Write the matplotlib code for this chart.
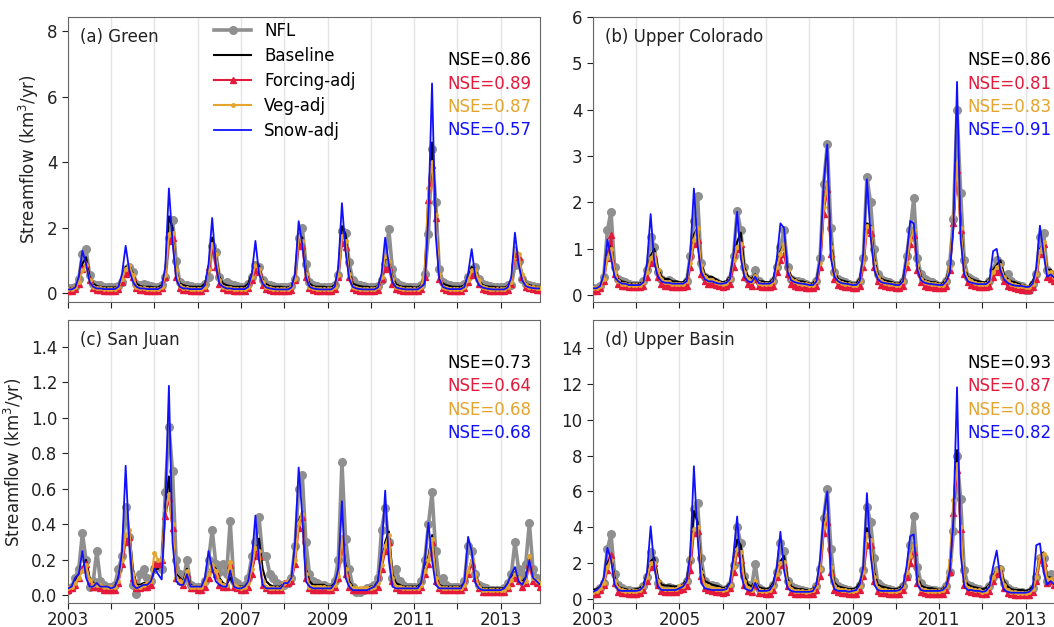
import numpy as np
import matplotlib
matplotlib.use("Agg")
import matplotlib.pyplot as plt
from matplotlib.ticker import FixedLocator, FormatStrFormatter

# monthly time axis, Jan 2003 - Dec 2013
months = 2003 + np.arange(132) / 12.0
year_ticks = list(range(2003, 2014))
year_labels = [str(y) if y % 2 == 1 else "" for y in year_ticks]

series_names = ["NFL", "Baseline", "Forcing-adj", "Veg-adj", "Snow-adj"]
panel_titles = ["(a) Green", "(b) Upper Colorado", "(c) San Juan", "(d) Upper Basin"]

# Nash-Sutcliffe efficiency per panel: Baseline, Forcing-adj, Veg-adj, Snow-adj
nse_green = [0.86, 0.89, 0.87, 0.57]
nse_colorado = [0.86, 0.81, 0.83, 0.91]
nse_sanjuan = [0.73, 0.64, 0.68, 0.68]
nse_basin = [0.93, 0.87, 0.88, 0.82]

# ---- Green (km3/yr), one row per year ----
green_nfl = [
    0.15, 0.15, 0.20, 0.45, 1.20, 1.35, 0.55, 0.30, 0.25, 0.25, 0.20, 0.18,
    0.18, 0.18, 0.22, 0.35, 0.75, 0.80, 0.65, 0.30, 0.25, 0.28, 0.25, 0.22,
    0.20, 0.20, 0.25, 0.50, 1.70, 2.25, 1.00, 0.35, 0.25, 0.25, 0.22, 0.20,
    0.20, 0.20, 0.30, 0.50, 1.45, 1.25, 0.50, 0.30, 0.35, 0.30, 0.25, 0.22,
    0.20, 0.20, 0.30, 0.50, 0.85, 0.80, 0.40, 0.30, 0.25, 0.22, 0.20, 0.20,
    0.18, 0.18, 0.22, 0.45, 1.70, 2.00, 0.90, 0.35, 0.25, 0.22, 0.20, 0.20,
    0.18, 0.18, 0.25, 0.55, 1.90, 1.85, 0.95, 0.40, 0.30, 0.25, 0.22, 0.20,
    0.20, 0.18, 0.22, 0.40, 0.90, 1.95, 0.75, 0.35, 0.25, 0.22, 0.20, 0.20,
    0.20, 0.20, 0.25, 0.60, 1.80, 4.40, 2.80, 0.75, 0.35, 0.30, 0.25, 0.22,
    0.22, 0.22, 0.30, 0.50, 0.75, 0.80, 0.45, 0.30, 0.25, 0.22, 0.20, 0.20,
    0.18, 0.18, 0.25, 0.25, 0.85, 1.00, 0.45, 0.30, 0.25, 0.22, 0.20, 0.18,
]
green_baseline = [
    0.15, 0.15, 0.20, 0.35, 0.90, 1.10, 0.50, 0.30, 0.22, 0.20, 0.18, 0.18,
    0.18, 0.18, 0.20, 0.45, 0.80, 0.85, 0.60, 0.30, 0.22, 0.20, 0.20, 0.20,
    0.18, 0.18, 0.25, 0.60, 2.35, 2.00, 0.70, 0.30, 0.25, 0.22, 0.20, 0.20,
    0.20, 0.20, 0.30, 0.70, 1.70, 1.20, 0.50, 0.30, 0.25, 0.22, 0.20, 0.20,
    0.20, 0.20, 0.30, 0.60, 0.90, 0.85, 0.40, 0.28, 0.22, 0.20, 0.20, 0.20,
    0.18, 0.18, 0.22, 0.50, 1.80, 1.70, 0.70, 0.30, 0.22, 0.20, 0.20, 0.20,
    0.18, 0.18, 0.25, 0.60, 2.05, 1.80, 0.75, 0.30, 0.25, 0.22, 0.20, 0.20,
    0.18, 0.18, 0.22, 0.50, 1.10, 1.00, 0.50, 0.28, 0.22, 0.20, 0.20, 0.20,
    0.18, 0.18, 0.25, 0.60, 3.00, 4.60, 2.50, 0.50, 0.30, 0.25, 0.22, 0.20,
    0.20, 0.20, 0.25, 0.45, 0.80, 0.75, 0.40, 0.25, 0.22, 0.20, 0.20, 0.18,
    0.18, 0.18, 0.22, 0.40, 1.40, 1.20, 0.55, 0.30, 0.25, 0.22, 0.20, 0.20,
]
green_forcing = [
    0.08, 0.08, 0.12, 0.30, 0.75, 0.90, 0.40, 0.15, 0.10, 0.10, 0.08, 0.08,
    0.08, 0.08, 0.12, 0.35, 0.60, 0.65, 0.50, 0.15, 0.10, 0.10, 0.08, 0.08,
    0.08, 0.08, 0.15, 0.50, 1.60, 1.70, 0.50, 0.15, 0.10, 0.10, 0.08, 0.08,
    0.08, 0.08, 0.15, 0.80, 1.40, 0.80, 0.30, 0.15, 0.10, 0.10, 0.08, 0.08,
    0.08, 0.08, 0.15, 0.40, 0.70, 0.65, 0.25, 0.12, 0.10, 0.08, 0.08, 0.08,
    0.07, 0.07, 0.10, 0.40, 1.50, 1.45, 0.50, 0.15, 0.10, 0.08, 0.08, 0.08,
    0.07, 0.07, 0.12, 0.50, 1.55, 1.40, 0.50, 0.15, 0.10, 0.08, 0.08, 0.08,
    0.07, 0.07, 0.10, 0.45, 0.75, 0.80, 0.30, 0.12, 0.10, 0.08, 0.08, 0.08,
    0.07, 0.07, 0.12, 0.50, 2.85, 3.90, 2.30, 0.45, 0.15, 0.10, 0.08, 0.08,
    0.08, 0.08, 0.15, 0.35, 0.55, 0.60, 0.30, 0.12, 0.10, 0.08, 0.08, 0.08,
    0.07, 0.07, 0.10, 0.30, 1.20, 1.10, 0.50, 0.20, 0.15, 0.12, 0.10, 0.10,
]
green_veg = [
    0.12, 0.12, 0.18, 0.35, 0.70, 0.85, 0.40, 0.20, 0.15, 0.15, 0.13, 0.13,
    0.13, 0.13, 0.18, 0.45, 0.75, 0.85, 0.55, 0.20, 0.15, 0.15, 0.13, 0.13,
    0.13, 0.13, 0.20, 0.55, 1.80, 1.85, 0.70, 0.22, 0.15, 0.15, 0.13, 0.13,
    0.13, 0.13, 0.20, 0.75, 1.50, 1.20, 0.40, 0.20, 0.15, 0.15, 0.13, 0.13,
    0.13, 0.13, 0.20, 0.50, 0.85, 0.75, 0.35, 0.18, 0.15, 0.13, 0.12, 0.12,
    0.12, 0.12, 0.18, 0.45, 1.75, 1.60, 0.60, 0.20, 0.15, 0.13, 0.12, 0.12,
    0.12, 0.12, 0.20, 0.55, 1.75, 1.60, 0.60, 0.20, 0.15, 0.13, 0.12, 0.12,
    0.12, 0.12, 0.18, 0.50, 1.15, 1.00, 0.45, 0.18, 0.15, 0.13, 0.12, 0.12,
    0.12, 0.12, 0.20, 0.70, 3.20, 4.00, 2.40, 0.60, 0.20, 0.15, 0.13, 0.13,
    0.13, 0.13, 0.20, 0.40, 0.70, 0.70, 0.40, 0.18, 0.15, 0.13, 0.12, 0.12,
    0.12, 0.12, 0.18, 0.35, 1.35, 1.20, 0.60, 0.25, 0.20, 0.18, 0.15, 0.15,
]
green_snow = [
    0.12, 0.12, 0.18, 0.50, 1.30, 0.90, 0.35, 0.20, 0.15, 0.15, 0.13, 0.13,
    0.13, 0.13, 0.20, 0.60, 1.45, 0.70, 0.35, 0.20, 0.15, 0.15, 0.13, 0.13,
    0.13, 0.13, 0.20, 0.80, 3.20, 1.60, 0.45, 0.20, 0.15, 0.15, 0.13, 0.13,
    0.13, 0.13, 0.25, 0.90, 2.30, 0.90, 0.30, 0.20, 0.15, 0.15, 0.13, 0.13,
    0.13, 0.13, 0.20, 0.60, 1.60, 0.60, 0.30, 0.18, 0.15, 0.13, 0.12, 0.12,
    0.12, 0.12, 0.18, 0.60, 2.20, 1.50, 0.50, 0.20, 0.15, 0.13, 0.12, 0.12,
    0.12, 0.12, 0.20, 0.80, 2.75, 1.30, 0.45, 0.20, 0.15, 0.13, 0.12, 0.12,
    0.12, 0.12, 0.18, 0.60, 1.70, 0.90, 0.35, 0.18, 0.15, 0.13, 0.12, 0.12,
    0.12, 0.12, 0.20, 0.30, 2.50, 6.40, 1.80, 0.45, 0.20, 0.15, 0.13, 0.13,
    0.13, 0.13, 0.20, 0.60, 1.35, 0.50, 0.25, 0.18, 0.15, 0.13, 0.12, 0.12,
    0.12, 0.12, 0.18, 0.50, 1.85, 0.90, 0.40, 0.22, 0.18, 0.16, 0.15, 0.15,
]

# ---- Upper Colorado ----
colorado_nfl = [
    0.15, 0.15, 0.20, 0.40, 1.40, 1.80, 0.60, 0.35, 0.30, 0.28, 0.25, 0.22,
    0.22, 0.22, 0.30, 0.55, 1.25, 1.05, 0.50, 0.35, 0.30, 0.32, 0.28, 0.25,
    0.22, 0.22, 0.30, 0.85, 1.60, 2.15, 0.70, 0.40, 0.35, 0.30, 0.28, 0.25,
    0.22, 0.25, 0.35, 0.85, 1.82, 1.40, 0.60, 0.35, 0.35, 0.55, 0.30, 0.25,
    0.22, 0.22, 0.30, 0.60, 1.05, 1.40, 0.60, 0.35, 0.30, 0.30, 0.28, 0.25,
    0.20, 0.22, 0.30, 0.80, 2.40, 3.25, 1.45, 0.50, 0.35, 0.30, 0.28, 0.25,
    0.22, 0.22, 0.30, 0.80, 2.55, 2.00, 1.00, 0.45, 0.35, 0.30, 0.28, 0.25,
    0.22, 0.22, 0.30, 0.85, 1.40, 2.10, 0.80, 0.45, 0.35, 0.30, 0.28, 0.25,
    0.20, 0.22, 0.30, 0.70, 1.65, 4.00, 2.20, 0.75, 0.40, 0.35, 0.30, 0.25,
    0.22, 0.22, 0.30, 0.55, 0.75, 0.70, 0.40, 0.45, 0.30, 0.25, 0.22, 0.20,
    0.12, 0.12, 0.25, 0.45, 1.25, 1.35, 0.55, 0.45, 0.40, 0.30, 0.25, 0.22,
]
colorado_baseline = [
    0.15, 0.15, 0.20, 0.35, 0.90, 1.10, 0.50, 0.35, 0.30, 0.28, 0.25, 0.25,
    0.25, 0.25, 0.30, 0.50, 0.85, 1.00, 0.60, 0.40, 0.35, 0.35, 0.30, 0.30,
    0.28, 0.28, 0.35, 0.70, 1.30, 1.45, 0.70, 0.45, 0.40, 0.40, 0.35, 0.30,
    0.28, 0.30, 0.40, 0.80, 1.15, 1.35, 0.60, 0.40, 0.35, 0.45, 0.30, 0.30,
    0.28, 0.28, 0.35, 0.65, 0.95, 1.10, 0.60, 0.40, 0.35, 0.30, 0.30, 0.28,
    0.25, 0.25, 0.35, 0.70, 1.90, 2.40, 1.20, 0.50, 0.35, 0.32, 0.30, 0.28,
    0.25, 0.25, 0.35, 0.75, 1.55, 1.50, 0.80, 0.45, 0.35, 0.32, 0.30, 0.28,
    0.25, 0.25, 0.35, 0.75, 1.20, 1.40, 0.70, 0.40, 0.32, 0.30, 0.28, 0.28,
    0.25, 0.25, 0.35, 0.60, 1.60, 2.85, 1.60, 0.60, 0.40, 0.35, 0.32, 0.30,
    0.28, 0.28, 0.35, 0.55, 0.65, 0.75, 0.45, 0.35, 0.30, 0.28, 0.25, 0.22,
    0.20, 0.20, 0.30, 0.50, 1.00, 1.10, 0.55, 0.55, 0.45, 0.35, 0.30, 0.28,
]
colorado_forcing = [
    0.10, 0.10, 0.15, 0.30, 0.80, 1.30, 0.45, 0.25, 0.20, 0.20, 0.18, 0.18,
    0.17, 0.17, 0.20, 0.40, 0.70, 0.85, 0.40, 0.25, 0.20, 0.20, 0.18, 0.18,
    0.17, 0.17, 0.20, 0.60, 1.10, 1.20, 0.45, 0.30, 0.25, 0.25, 0.22, 0.20,
    0.18, 0.20, 0.25, 0.60, 1.00, 1.10, 0.40, 0.25, 0.20, 0.35, 0.20, 0.18,
    0.17, 0.17, 0.20, 0.50, 0.75, 0.90, 0.45, 0.25, 0.20, 0.18, 0.17, 0.16,
    0.15, 0.15, 0.20, 0.60, 1.75, 2.30, 0.90, 0.35, 0.22, 0.20, 0.18, 0.17,
    0.15, 0.15, 0.20, 0.60, 1.40, 1.35, 0.60, 0.30, 0.22, 0.20, 0.18, 0.17,
    0.15, 0.15, 0.20, 0.60, 1.10, 1.30, 0.55, 0.28, 0.20, 0.18, 0.17, 0.16,
    0.15, 0.15, 0.20, 0.55, 1.55, 2.70, 1.40, 0.45, 0.28, 0.22, 0.20, 0.18,
    0.17, 0.17, 0.20, 0.40, 0.50, 0.55, 0.30, 0.20, 0.17, 0.15, 0.13, 0.12,
    0.12, 0.12, 0.18, 0.35, 0.90, 1.10, 0.40, 0.35, 0.30, 0.22, 0.18, 0.16,
]
colorado_veg = [
    0.15, 0.15, 0.20, 0.35, 0.80, 1.00, 0.50, 0.30, 0.25, 0.25, 0.22, 0.22,
    0.22, 0.22, 0.28, 0.50, 0.80, 0.90, 0.55, 0.35, 0.28, 0.28, 0.25, 0.25,
    0.25, 0.25, 0.30, 0.70, 1.20, 1.45, 0.65, 0.40, 0.32, 0.32, 0.28, 0.27,
    0.25, 0.27, 0.35, 0.75, 1.05, 1.10, 0.50, 0.35, 0.30, 0.42, 0.27, 0.25,
    0.25, 0.25, 0.30, 0.60, 0.90, 1.10, 0.55, 0.35, 0.30, 0.27, 0.25, 0.25,
    0.22, 0.22, 0.30, 0.70, 1.90, 2.40, 1.05, 0.45, 0.30, 0.27, 0.25, 0.24,
    0.22, 0.22, 0.30, 0.70, 1.50, 1.45, 0.70, 0.40, 0.30, 0.27, 0.25, 0.24,
    0.22, 0.22, 0.30, 0.70, 1.20, 1.40, 0.65, 0.35, 0.28, 0.26, 0.25, 0.24,
    0.22, 0.22, 0.30, 0.60, 1.70, 2.85, 1.45, 0.55, 0.35, 0.30, 0.27, 0.25,
    0.25, 0.25, 0.30, 0.50, 0.60, 0.65, 0.40, 0.30, 0.25, 0.22, 0.20, 0.20,
    0.18, 0.18, 0.25, 0.45, 0.95, 1.15, 0.50, 0.50, 0.40, 0.30, 0.25, 0.24,
]
colorado_snow = [
    0.15, 0.15, 0.20, 0.45, 1.20, 0.80, 0.40, 0.30, 0.25, 0.25, 0.22, 0.22,
    0.22, 0.22, 0.28, 0.70, 1.75, 0.70, 0.40, 0.30, 0.27, 0.27, 0.25, 0.25,
    0.25, 0.25, 0.30, 0.90, 2.30, 1.10, 0.50, 0.35, 0.30, 0.30, 0.27, 0.25,
    0.25, 0.27, 0.35, 0.90, 1.80, 0.80, 0.40, 0.30, 0.28, 0.40, 0.26, 0.25,
    0.25, 0.25, 0.30, 0.80, 1.55, 1.45, 0.50, 0.32, 0.28, 0.26, 0.25, 0.24,
    0.22, 0.22, 0.30, 0.80, 2.40, 3.25, 0.80, 0.40, 0.30, 0.26, 0.25, 0.24,
    0.22, 0.22, 0.30, 0.90, 2.50, 1.30, 0.55, 0.35, 0.28, 0.26, 0.25, 0.24,
    0.22, 0.22, 0.30, 0.85, 1.60, 1.55, 0.55, 0.32, 0.27, 0.25, 0.24, 0.23,
    0.22, 0.22, 0.30, 0.50, 1.50, 4.60, 1.20, 0.45, 0.30, 0.27, 0.25, 0.24,
    0.24, 0.24, 0.30, 0.95, 1.00, 0.55, 0.35, 0.27, 0.23, 0.21, 0.20, 0.20,
    0.18, 0.18, 0.25, 0.60, 1.50, 0.90, 0.40, 0.45, 0.38, 0.28, 0.24, 0.22,
]

# ---- San Juan ----
sanjuan_nfl = [
    0.03, 0.05, 0.10, 0.15, 0.35, 0.20, 0.05, 0.08, 0.25, 0.08, 0.06, 0.05,
    0.05, 0.06, 0.15, 0.22, 0.50, 0.33, 0.06, 0.01, 0.12, 0.15, 0.10, 0.08,
    0.15, 0.18, 0.15, 0.58, 0.95, 0.70, 0.20, 0.12, 0.08, 0.20, 0.06, 0.05,
    0.05, 0.05, 0.08, 0.20, 0.37, 0.18, 0.13, 0.18, 0.12, 0.42, 0.08, 0.07,
    0.05, 0.06, 0.10, 0.22, 0.30, 0.44, 0.22, 0.22, 0.12, 0.10, 0.07, 0.06,
    0.06, 0.07, 0.10, 0.28, 0.60, 0.68, 0.30, 0.12, 0.08, 0.07, 0.06, 0.06,
    0.05, 0.05, 0.08, 0.20, 0.75, 0.32, 0.15, 0.05, 0.02, 0.02, 0.03, 0.04,
    0.05, 0.06, 0.10, 0.37, 0.49, 0.30, 0.10, 0.15, 0.08, 0.06, 0.05, 0.05,
    0.05, 0.05, 0.08, 0.20, 0.40, 0.58, 0.25, 0.08, 0.10, 0.06, 0.05, 0.05,
    0.05, 0.05, 0.08, 0.28, 0.25, 0.12, 0.06, 0.05, 0.04, 0.03, 0.03, 0.03,
    0.03, 0.04, 0.07, 0.12, 0.30, 0.15, 0.12, 0.18, 0.41, 0.15, 0.10, 0.08,
]
sanjuan_baseline = [
    0.04, 0.05, 0.08, 0.12, 0.15, 0.20, 0.10, 0.07, 0.06, 0.06, 0.05, 0.05,
    0.05, 0.05, 0.10, 0.20, 0.33, 0.36, 0.15, 0.06, 0.06, 0.07, 0.07, 0.08,
    0.15, 0.15, 0.20, 0.50, 0.67, 0.37, 0.12, 0.10, 0.08, 0.15, 0.06, 0.05,
    0.05, 0.05, 0.07, 0.12, 0.17, 0.15, 0.10, 0.07, 0.06, 0.10, 0.06, 0.05,
    0.05, 0.05, 0.07, 0.15, 0.22, 0.32, 0.15, 0.08, 0.06, 0.05, 0.05, 0.05,
    0.07, 0.07, 0.10, 0.20, 0.42, 0.47, 0.15, 0.08, 0.06, 0.06, 0.06, 0.06,
    0.05, 0.05, 0.07, 0.12, 0.33, 0.18, 0.08, 0.05, 0.04, 0.04, 0.04, 0.04,
    0.05, 0.05, 0.08, 0.20, 0.30, 0.36, 0.12, 0.07, 0.06, 0.05, 0.05, 0.05,
    0.05, 0.05, 0.07, 0.15, 0.22, 0.34, 0.12, 0.06, 0.05, 0.05, 0.05, 0.05,
    0.05, 0.05, 0.07, 0.13, 0.20, 0.12, 0.06, 0.04, 0.04, 0.04, 0.04, 0.04,
    0.04, 0.04, 0.06, 0.10, 0.13, 0.10, 0.08, 0.10, 0.22, 0.10, 0.08, 0.07,
]
sanjuan_forcing = [
    0.03, 0.04, 0.06, 0.10, 0.15, 0.18, 0.08, 0.05, 0.05, 0.04, 0.03, 0.03,
    0.03, 0.03, 0.07, 0.18, 0.30, 0.33, 0.10, 0.04, 0.04, 0.05, 0.05, 0.06,
    0.18, 0.18, 0.20, 0.45, 0.55, 0.38, 0.10, 0.08, 0.06, 0.12, 0.04, 0.04,
    0.03, 0.03, 0.05, 0.10, 0.15, 0.12, 0.06, 0.05, 0.05, 0.17, 0.05, 0.04,
    0.03, 0.03, 0.05, 0.12, 0.24, 0.22, 0.06, 0.04, 0.03, 0.03, 0.03, 0.03,
    0.07, 0.07, 0.08, 0.18, 0.38, 0.44, 0.10, 0.04, 0.03, 0.03, 0.03, 0.03,
    0.03, 0.03, 0.05, 0.10, 0.30, 0.12, 0.05, 0.03, 0.03, 0.03, 0.03, 0.03,
    0.03, 0.03, 0.05, 0.15, 0.25, 0.30, 0.08, 0.04, 0.03, 0.03, 0.03, 0.03,
    0.03, 0.03, 0.05, 0.12, 0.18, 0.30, 0.08, 0.04, 0.03, 0.03, 0.03, 0.03,
    0.03, 0.03, 0.05, 0.12, 0.18, 0.10, 0.04, 0.02, 0.02, 0.02, 0.02, 0.02,
    0.02, 0.02, 0.04, 0.07, 0.10, 0.08, 0.05, 0.07, 0.18, 0.08, 0.07, 0.05,
]
sanjuan_veg = [
    0.04, 0.05, 0.07, 0.10, 0.14, 0.17, 0.09, 0.06, 0.06, 0.06, 0.05, 0.05,
    0.05, 0.05, 0.08, 0.20, 0.34, 0.37, 0.12, 0.05, 0.05, 0.06, 0.07, 0.08,
    0.24, 0.20, 0.20, 0.48, 0.57, 0.40, 0.10, 0.08, 0.07, 0.14, 0.05, 0.05,
    0.05, 0.05, 0.07, 0.12, 0.17, 0.14, 0.08, 0.06, 0.06, 0.19, 0.06, 0.05,
    0.04, 0.05, 0.07, 0.15, 0.27, 0.25, 0.08, 0.05, 0.04, 0.04, 0.04, 0.04,
    0.07, 0.08, 0.10, 0.20, 0.41, 0.46, 0.12, 0.05, 0.05, 0.05, 0.05, 0.05,
    0.04, 0.04, 0.06, 0.11, 0.33, 0.15, 0.06, 0.04, 0.04, 0.04, 0.04, 0.04,
    0.04, 0.05, 0.07, 0.17, 0.28, 0.34, 0.10, 0.05, 0.05, 0.04, 0.04, 0.04,
    0.04, 0.04, 0.06, 0.14, 0.20, 0.32, 0.10, 0.05, 0.04, 0.04, 0.04, 0.04,
    0.04, 0.04, 0.06, 0.14, 0.20, 0.12, 0.05, 0.03, 0.03, 0.03, 0.03, 0.03,
    0.03, 0.03, 0.05, 0.09, 0.12, 0.10, 0.07, 0.08, 0.22, 0.10, 0.08, 0.07,
]
sanjuan_snow = [
    0.04, 0.05, 0.10, 0.12, 0.25, 0.10, 0.05, 0.05, 0.07, 0.05, 0.05, 0.05,
    0.04, 0.05, 0.10, 0.25, 0.73, 0.30, 0.06, 0.04, 0.05, 0.06, 0.06, 0.08,
    0.15, 0.12, 0.09, 0.50, 1.18, 0.30, 0.08, 0.06, 0.06, 0.12, 0.05, 0.05,
    0.05, 0.05, 0.10, 0.25, 0.15, 0.08, 0.06, 0.05, 0.05, 0.14, 0.05, 0.04,
    0.04, 0.05, 0.08, 0.20, 0.45, 0.20, 0.06, 0.04, 0.04, 0.04, 0.04, 0.04,
    0.07, 0.07, 0.10, 0.30, 0.72, 0.45, 0.08, 0.05, 0.04, 0.04, 0.04, 0.04,
    0.04, 0.04, 0.07, 0.15, 0.53, 0.10, 0.05, 0.03, 0.03, 0.03, 0.03, 0.03,
    0.04, 0.05, 0.08, 0.25, 0.59, 0.20, 0.05, 0.04, 0.04, 0.04, 0.04, 0.04,
    0.04, 0.04, 0.07, 0.20, 0.41, 0.20, 0.06, 0.04, 0.04, 0.04, 0.04, 0.04,
    0.04, 0.04, 0.08, 0.33, 0.25, 0.07, 0.04, 0.03, 0.03, 0.03, 0.03, 0.03,
    0.03, 0.04, 0.07, 0.12, 0.16, 0.08, 0.06, 0.10, 0.20, 0.10, 0.08, 0.06,
]

# ---- Upper Basin ----
basin_nfl = [
    0.40, 0.45, 0.60, 0.90, 2.80, 3.60, 1.40, 0.80, 0.60, 0.50, 0.50, 0.45,
    0.45, 0.50, 0.70, 1.20, 2.60, 2.20, 0.90, 0.70, 0.60, 0.65, 0.60, 0.55,
    0.60, 0.70, 1.00, 2.20, 5.00, 5.35, 2.30, 1.00, 0.80, 0.80, 0.70, 0.60,
    0.50, 0.55, 0.80, 1.90, 4.00, 3.10, 1.30, 0.80, 0.70, 1.95, 0.60, 0.50,
    0.45, 0.50, 0.80, 1.50, 3.10, 2.65, 1.00, 0.70, 0.60, 0.55, 0.50, 0.45,
    0.40, 0.45, 0.70, 1.70, 4.50, 6.15, 2.80, 1.00, 0.70, 0.60, 0.55, 0.50,
    0.45, 0.50, 0.80, 1.60, 5.15, 4.30, 2.30, 0.90, 0.70, 0.60, 0.55, 0.50,
    0.45, 0.50, 0.70, 1.30, 3.00, 4.65, 1.80, 0.90, 0.60, 0.55, 0.50, 0.50,
    0.45, 0.50, 0.70, 1.50, 3.80, 8.00, 5.55, 1.60, 0.80, 0.70, 0.60, 0.55,
    0.45, 0.50, 0.70, 1.20, 1.60, 1.70, 0.90, 0.60, 0.50, 0.45, 0.40, 0.40,
    0.35, 0.40, 0.60, 1.20, 2.30, 2.30, 1.00, 1.40, 1.00, 0.70, 0.55, 0.50,
]
basin_baseline = [
    0.50, 0.55, 0.70, 1.00, 2.00, 2.40, 1.20, 0.70, 0.60, 0.55, 0.50, 0.50,
    0.55, 0.60, 0.80, 1.40, 2.10, 2.30, 1.20, 0.80, 0.75, 0.75, 0.70, 0.70,
    0.70, 0.80, 1.10, 2.30, 4.90, 4.30, 1.80, 1.00, 0.90, 0.80, 0.75, 0.70,
    0.60, 0.65, 0.90, 1.80, 3.30, 3.00, 1.30, 0.80, 0.70, 1.00, 0.65, 0.60,
    0.55, 0.60, 0.90, 1.60, 2.10, 2.40, 1.10, 0.70, 0.60, 0.55, 0.55, 0.50,
    0.50, 0.55, 0.80, 1.70, 4.30, 4.60, 2.00, 0.90, 0.70, 0.65, 0.60, 0.55,
    0.55, 0.60, 0.90, 1.50, 3.95, 3.40, 1.50, 0.80, 0.70, 0.65, 0.60, 0.55,
    0.55, 0.60, 0.80, 1.30, 2.40, 3.00, 1.30, 0.75, 0.65, 0.60, 0.60, 0.55,
    0.50, 0.55, 0.80, 1.80, 5.00, 8.30, 4.00, 1.10, 0.80, 0.70, 0.65, 0.60,
    0.55, 0.60, 0.80, 1.30, 1.60, 1.80, 1.00, 0.70, 0.55, 0.50, 0.50, 0.50,
    0.45, 0.50, 0.70, 1.30, 2.40, 2.60, 1.20, 1.20, 1.00, 0.75, 0.60, 0.55,
]
basin_forcing = [
    0.30, 0.30, 0.50, 0.80, 1.60, 2.45, 0.90, 0.40, 0.35, 0.35, 0.30, 0.30,
    0.30, 0.35, 0.50, 1.00, 1.80, 2.00, 0.80, 0.45, 0.40, 0.40, 0.40, 0.40,
    0.50, 0.55, 0.70, 1.60, 3.70, 3.80, 1.30, 0.60, 0.50, 0.45, 0.40, 0.40,
    0.35, 0.40, 0.60, 1.50, 2.60, 2.20, 0.80, 0.45, 0.40, 0.80, 0.35, 0.35,
    0.30, 0.30, 0.50, 1.20, 1.90, 1.90, 0.70, 0.40, 0.30, 0.30, 0.30, 0.30,
    0.30, 0.30, 0.50, 1.30, 3.70, 4.30, 1.50, 0.50, 0.40, 0.35, 0.35, 0.30,
    0.30, 0.30, 0.50, 1.30, 3.00, 3.00, 1.00, 0.45, 0.35, 0.35, 0.30, 0.30,
    0.30, 0.30, 0.50, 1.20, 2.00, 2.60, 0.90, 0.40, 0.35, 0.30, 0.30, 0.30,
    0.30, 0.30, 0.50, 1.50, 4.80, 7.20, 3.90, 0.80, 0.45, 0.40, 0.35, 0.35,
    0.30, 0.30, 0.45, 1.00, 1.40, 1.50, 0.60, 0.35, 0.30, 0.25, 0.25, 0.25,
    0.25, 0.25, 0.40, 1.00, 2.20, 2.00, 0.90, 1.00, 0.80, 0.50, 0.35, 0.30,
]
basin_veg = [
    0.40, 0.45, 0.60, 0.90, 1.80, 2.20, 1.00, 0.60, 0.50, 0.45, 0.45, 0.45,
    0.45, 0.50, 0.70, 1.20, 2.00, 2.00, 1.00, 0.60, 0.55, 0.55, 0.55, 0.55,
    0.70, 0.70, 1.00, 2.30, 3.90, 4.00, 1.50, 0.80, 0.70, 0.60, 0.55, 0.55,
    0.50, 0.55, 0.80, 1.80, 2.80, 2.60, 1.00, 0.60, 0.50, 1.00, 0.50, 0.45,
    0.45, 0.50, 0.70, 1.40, 2.00, 2.05, 0.90, 0.55, 0.45, 0.45, 0.45, 0.40,
    0.45, 0.50, 0.70, 1.70, 4.00, 4.70, 1.80, 0.70, 0.55, 0.50, 0.50, 0.45,
    0.45, 0.50, 0.70, 1.50, 3.60, 3.30, 1.20, 0.60, 0.50, 0.50, 0.45, 0.45,
    0.45, 0.50, 0.70, 1.50, 2.40, 3.00, 1.10, 0.55, 0.50, 0.45, 0.45, 0.45,
    0.45, 0.50, 0.70, 2.20, 5.50, 7.50, 4.00, 1.00, 0.60, 0.55, 0.50, 0.50,
    0.40, 0.45, 0.65, 1.20, 1.60, 1.75, 0.80, 0.50, 0.40, 0.40, 0.35, 0.35,
    0.35, 0.40, 0.55, 1.20, 2.40, 2.50, 1.10, 1.10, 0.90, 0.60, 0.50, 0.45,
]
basin_snow = [
    0.40, 0.50, 0.70, 1.20, 2.85, 2.20, 0.80, 0.50, 0.45, 0.45, 0.45, 0.45,
    0.45, 0.50, 0.70, 1.50, 4.05, 1.80, 0.70, 0.50, 0.50, 0.50, 0.50, 0.50,
    0.60, 0.70, 1.00, 2.50, 7.40, 3.50, 0.90, 0.60, 0.55, 0.50, 0.50, 0.50,
    0.50, 0.55, 0.90, 2.50, 4.60, 1.50, 0.60, 0.50, 0.45, 0.90, 0.45, 0.45,
    0.45, 0.50, 0.80, 1.80, 3.75, 1.60, 0.60, 0.45, 0.40, 0.40, 0.40, 0.40,
    0.40, 0.45, 0.80, 2.20, 4.60, 6.00, 1.20, 0.55, 0.45, 0.45, 0.45, 0.40,
    0.45, 0.50, 0.80, 1.80, 5.90, 2.50, 0.80, 0.50, 0.45, 0.45, 0.45, 0.45,
    0.45, 0.50, 0.70, 1.80, 3.50, 3.60, 0.80, 0.50, 0.45, 0.45, 0.45, 0.45,
    0.45, 0.50, 0.70, 1.60, 4.50, 11.80, 2.50, 0.70, 0.50, 0.50, 0.45, 0.45,
    0.40, 0.45, 0.70, 1.80, 2.70, 1.20, 0.50, 0.40, 0.35, 0.35, 0.35, 0.35,
    0.35, 0.40, 0.60, 3.00, 3.10, 1.50, 0.80, 1.00, 0.80, 0.55, 0.45, 0.40,
]

# line styles for the five model runs (legend order)
styles = [
    dict(color="#8f8f8f", lw=2.6, marker="o", ms=5.5, zorder=2),
    dict(color="black", lw=1.5, zorder=3),
    dict(color="#e31a3c", lw=1.5, marker="^", ms=4, zorder=4),
    dict(color="#e5a42e", lw=1.5, marker=".", ms=5, zorder=5),
    dict(color="#1010ff", lw=1.3, zorder=6),
]
nse_colors = ["black", "#e31a3c", "#e5a42e", "#1010ff"]


def draw_panel(ax, title, series, nse, ylim, yticks, fmt=None, nse_x=0.982):
    """Plot the five streamflow series for one basin."""
    for name, values, st in zip(series_names, series, styles):
        ax.plot(months, values, label=name, **st)

    ax.set_xlim(months[0], months[-1])
    ax.set_ylim(*ylim)
    ax.set_yticks(yticks)
    if fmt:
        ax.yaxis.set_major_formatter(FormatStrFormatter(fmt))
    ax.xaxis.set_major_locator(FixedLocator(year_ticks))
    ax.set_xticklabels(year_labels)
    ax.grid(axis="x", color="#e4e4e4", lw=1.0, zorder=0)
    ax.tick_params(labelsize=12, colors="#222222", length=4)
    ax.tick_params(axis="x", pad=1.5)
    for sp in ax.spines.values():
        sp.set_color("#666666")

    ax.text(0.025, 0.93, title, transform=ax.transAxes, fontsize=12,
            va="center", ha="left", color="#222222")
    for i, (v, c) in enumerate(zip(nse, nse_colors)):
        ax.text(nse_x, 0.848 - 0.082 * i, f"NSE={v:.2f}", color=c,
                transform=ax.transAxes, fontsize=12, ha="right", va="center")


def main():
    fig = plt.figure(figsize=(10.54, 6.27), dpi=100)

    # the right-hand column runs past the figure edge
    ax_a = fig.add_axes([0.0645, 0.518, 0.448, 0.455])
    ax_b = fig.add_axes([0.5626, 0.518, 0.448, 0.455])
    ax_c = fig.add_axes([0.0645, 0.0375, 0.448, 0.452])
    ax_d = fig.add_axes([0.5626, 0.0375, 0.448, 0.452])

    draw_panel(ax_a, panel_titles[0],
               [green_nfl, green_baseline, green_forcing, green_veg, green_snow],
               nse_green, (-0.27, 8.43), [0, 2, 4, 6, 8])
    draw_panel(ax_b, panel_titles[1],
               [colorado_nfl, colorado_baseline, colorado_forcing, colorado_veg, colorado_snow],
               nse_colorado, (-0.15, 6.0), [0, 1, 2, 3, 4, 5, 6], nse_x=0.971)
    draw_panel(ax_c, panel_titles[2],
               [sanjuan_nfl, sanjuan_baseline, sanjuan_forcing, sanjuan_veg, sanjuan_snow],
               nse_sanjuan, (-0.045, 1.55), np.arange(0, 1.41, 0.2), fmt="%.1f")
    draw_panel(ax_d, panel_titles[3],
               [basin_nfl, basin_baseline, basin_forcing, basin_veg, basin_snow],
               nse_basin, (-0.25, 15.55), list(range(0, 15, 2)), nse_x=0.971)

    for ax in (ax_a, ax_b):
        ax.tick_params(labelbottom=False)
    for ax in (ax_a, ax_c):
        ax.set_ylabel("Streamflow (km$^3$/yr)", fontsize=12, color="#222222")

    ax_a.legend(loc="upper left", bbox_to_anchor=(0.31, 0.982), frameon=False,
                fontsize=12, borderpad=0, borderaxespad=0, labelspacing=0.42,
                handlelength=2.2, handletextpad=0.8)

    fig.savefig("out.png", dpi=100)


if __name__ == "__main__":
    main()
